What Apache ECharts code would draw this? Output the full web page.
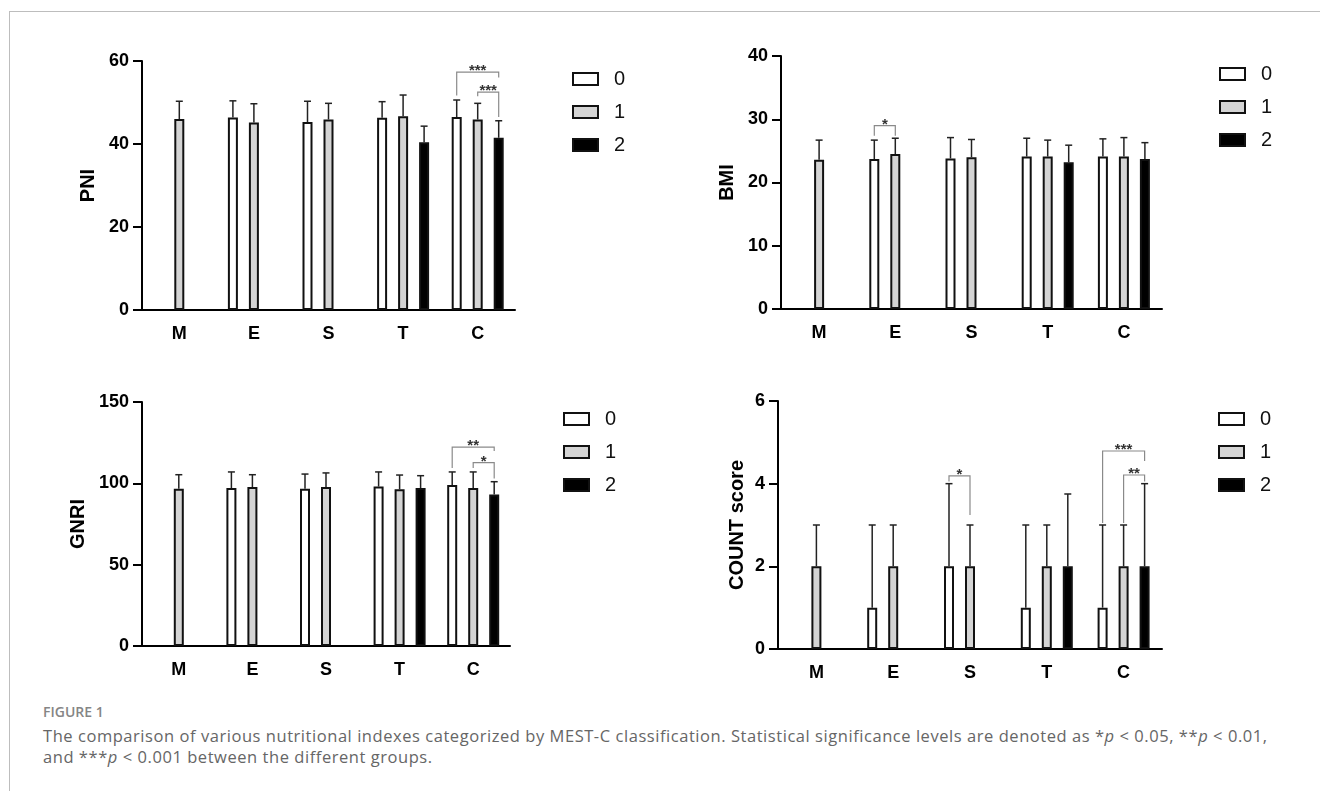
<!DOCTYPE html>
<html>
<head>
<meta charset="utf-8">
<title>MEST-C nutritional indexes</title>
<script src="https://cdn.jsdelivr.net/npm/echarts@6/dist/echarts.min.js"></script>
<style>
    html, body { margin: 0; padding: 0; background: #fff; }
    #frame {
        position: absolute; left: 9px; top: 11px; width: 1320px; height: 800px;
        border-top: 1px solid #bdbdbd; border-left: 1px solid #bdbdbd;
    }
    #chart { position: absolute; left: 0; top: 0; width: 1320px; height: 700px; }
    #figLabel {
        position: absolute; left: 43px; top: 703px;
        font-family: 'Open Sans', sans-serif; font-size: 14px; font-weight: 600;
        color: #858585; line-height: 17px;
    }
    #caption {
        position: absolute; left: 43px; top: 725px; width: 1270px;
        font-family: 'Open Sans', sans-serif; font-size: 16.5px; letter-spacing: 0.55px;
        color: #666; line-height: 21px; white-space: nowrap;
    }
</style>
</head>
<body>
<div id="frame"></div>
<div id="chart"></div>
<div id="figLabel">FIGURE 1</div>
<div id="caption">The comparison of various nutritional indexes categorized by MEST-C classification. Statistical significance levels are denoted as *<i>p</i> &lt; 0.05, **<i>p</i> &lt; 0.01,<br>and ***<i>p</i> &lt; 0.001 between the different groups.</div>
<script>
// 数据
const categories = ['M', 'E', 'S', 'T', 'C'];
const groups = ['0', '1', '2'];

// PNI
const pniMean0 = [null, 46.4, 45.3, 46.3, 46.5];
const pniMean1 = [46.0, 45.2, 45.9, 46.7, 45.9];
const pniMean2 = [null, null, null, 40.4, 41.5];
const pniSd0 = [null, 4.0, 5.0, 3.9, 4.1];
const pniSd1 = [4.3, 4.5, 3.9, 5.1, 3.9];
const pniSd2 = [null, null, null, 3.9, 4.1];
// [category, from group, to group, bracket level, left leg end, right leg end, stars]
const pniBrackets = [
    [4, 0, 2, 57.3, 51.7, 56.0, '***'],
    [4, 1, 2, 52.5, 51.5, 46.5, '***']
];

// BMI
const bmiMean0 = [null, 23.7, 23.8, 24.1, 24.1];
const bmiMean1 = [23.6, 24.5, 24.0, 24.1, 24.1];
const bmiMean2 = [null, null, null, 23.2, 23.7];
const bmiSd0 = [null, 3.0, 3.3, 2.9, 2.8];
const bmiSd1 = [3.1, 2.5, 2.8, 2.6, 3.0];
const bmiSd2 = [null, null, null, 2.7, 2.6];
const bmiBrackets = [
    [1, 0, 1, 29.0, 27.4, 27.4, '*']
];

// GNRI
const gnriMean0 = [null, 97.1, 96.7, 98.0, 99.0];
const gnriMean1 = [96.7, 97.7, 97.7, 96.3, 97.1];
const gnriMean2 = [null, null, null, 97.1, 93.2];
const gnriSd0 = [null, 9.9, 9.0, 9.0, 8.0];
const gnriSd1 = [8.6, 7.6, 8.7, 8.8, 9.9];
const gnriSd2 = [null, null, null, 7.6, 7.8];
const gnriBrackets = [
    [4, 0, 2, 122.3, 109.4, 119.9, '**'],
    [4, 1, 2, 112.7, 109.4, 102.9, '*']
];

// COUNT score
const countMean0 = [null, 1, 2, 1, 1];
const countMean1 = [2, 2, 2, 2, 2];
const countMean2 = [null, null, null, 2, 2];
const countSd0 = [null, 2, 2, 2, 2];
const countSd1 = [1, 1, 1, 1, 1];
const countSd2 = [null, null, null, 1.75, 2];
const countBrackets = [
    [2, 0, 1, 4.19, 4.05, 3.24, '*'],
    [4, 0, 2, 4.79, 3.05, 4.55, '***'],
    [4, 1, 2, 4.21, 3.05, 4.05, '**']
];

// 样式
const barFill = ['#ffffff', '#d4d4d4', '#000000'];
const BAR_W = 10;
const SLOT = 21;          // BAR_W * (1 + 110%)
const CAP = 3.5;
const FONT = "'Liberation Sans', Arial, sans-serif";

const panels = [
    { name: 'PNI', max: 60, interval: 20,
      means: [pniMean0, pniMean1, pniMean2], sds: [pniSd0, pniSd1, pniSd2], brackets: pniBrackets,
      grid: { left: 142, top: 61, width: 373, height: 249 }, nameGap: 44, legend: { left: 572, top: 69 } },
    { name: 'BMI', max: 40, interval: 10,
      means: [bmiMean0, bmiMean1, bmiMean2], sds: [bmiSd0, bmiSd1, bmiSd2], brackets: bmiBrackets,
      grid: { left: 781, top: 56, width: 381, height: 253 }, nameGap: 44, legend: { left: 1219, top: 64 } },
    { name: 'GNRI', max: 150, interval: 50,
      means: [gnriMean0, gnriMean1, gnriMean2], sds: [gnriSd0, gnriSd1, gnriSd2], brackets: gnriBrackets,
      grid: { left: 142, top: 402, width: 368, height: 244 }, nameGap: 54, legend: { left: 563, top: 409 } },
    { name: 'COUNT score', max: 6, interval: 2,
      means: [countMean0, countMean1, countMean2], sds: [countSd0, countSd1, countSd2], brackets: countBrackets,
      grid: { left: 778, top: 401, width: 384, height: 248 }, nameGap: 31, legend: { left: 1218, top: 409 } }
];

// 误差棒
function renderError(params, api) {
    const c = api.value(0);
    const mean = api.value(1);
    const sd = api.value(2);
    const slot = api.value(3);
    const base = api.coord([c, mean]);
    const top = api.coord([c, mean + sd]);
    const x = base[0] + (slot - 1) * SLOT;
    const style = { stroke: '#222', lineWidth: 1.5 };
    return {
        type: 'group',
        children: [
            { type: 'line', shape: { x1: x, y1: base[1], x2: x, y2: top[1] }, style: style },
            { type: 'line', shape: { x1: x - CAP, y1: top[1], x2: x + CAP, y2: top[1] }, style: style }
        ]
    };
}

// 显著性标注
function makeBracketRenderer(list) {
    return function (params, api) {
        const b = list[params.dataIndex];
        const level = api.coord([b[0], b[3]]);
        const xa = level[0] + (b[1] - 1) * SLOT;
        const xb = level[0] + (b[2] - 1) * SLOT;
        const yl = api.coord([b[0], b[4]])[1];
        const yr = api.coord([b[0], b[5]])[1];
        return {
            type: 'group',
            children: [
                { type: 'polyline', shape: { points: [[xa, yl], [xa, level[1]], [xb, level[1]], [xb, yr]] },
                  style: { stroke: '#8a8a8a', lineWidth: 1.2, fill: null } },
                { type: 'text', x: (xa + xb) / 2, y: level[1] - 1,
                  style: { text: b[6], textAlign: 'center', textVerticalAlign: 'middle',
                           font: 'bold 15px ' + FONT, fill: '#333' } }
            ]
        };
    };
}

const chart = echarts.init(document.getElementById('chart'));
const option = { animation: false, grid: [], xAxis: [], yAxis: [], legend: [], series: [] };

panels.forEach((p, i) => {
    option.grid.push(p.grid);
    option.xAxis.push({
        type: 'category', gridIndex: i, data: categories,
        axisLine: { lineStyle: { color: '#000', width: 2 } },
        axisTick: { alignWithLabel: true, length: 9, lineStyle: { color: '#000', width: 2 } },
        axisLabel: { color: '#000', fontFamily: FONT, fontWeight: 'bold', fontSize: 18, margin: 15 }
    });
    option.yAxis.push({
        type: 'value', gridIndex: i, min: 0, max: p.max, interval: p.interval,
        name: p.name, nameLocation: 'middle', nameGap: p.nameGap,
        nameTextStyle: { color: '#000', fontFamily: FONT, fontWeight: 'bold', fontSize: 20 },
        splitLine: { show: false },
        axisLine: { show: true, lineStyle: { color: '#000', width: 2 } },
        axisTick: { show: true, length: 9, lineStyle: { color: '#000', width: 2 } },
        axisLabel: { color: '#000', fontFamily: FONT, fontWeight: 'bold', fontSize: 18, margin: 13 }
    });
    option.legend.push({
        data: groups, orient: 'vertical', left: p.legend.left, top: p.legend.top,
        padding: 0, itemWidth: 25, itemHeight: 12, itemGap: 13, icon: 'rect',
        selectedMode: false,
        itemStyle: { borderColor: '#111', borderWidth: 2 },
        textStyle: { color: '#111', fontFamily: FONT, fontSize: 20, lineHeight: 20, padding: [0, 0, 0, 11] }
    });

    const errData = [];
    groups.forEach((g, gi) => {
        option.series.push({
            name: g, type: 'bar', xAxisIndex: i, yAxisIndex: i,
            data: p.means[gi], barWidth: BAR_W, barGap: '110%',
            itemStyle: { color: barFill[gi], borderColor: '#111', borderWidth: 2 }
        });
        p.means[gi].forEach((m, ci) => {
            if (m !== null) errData.push([ci, m, p.sds[gi][ci], gi]);
        });
    });
    option.series.push({
        type: 'custom', xAxisIndex: i, yAxisIndex: i, z: 3,
        renderItem: renderError, encode: { x: 0, y: 1 }, data: errData
    });
    option.series.push({
        type: 'custom', xAxisIndex: i, yAxisIndex: i, z: 3,
        renderItem: makeBracketRenderer(p.brackets), encode: { x: 0, y: 1 },
        data: p.brackets.map(b => [b[0], b[3]])
    });
});

chart.setOption(option);
</script>
</body>
</html>
